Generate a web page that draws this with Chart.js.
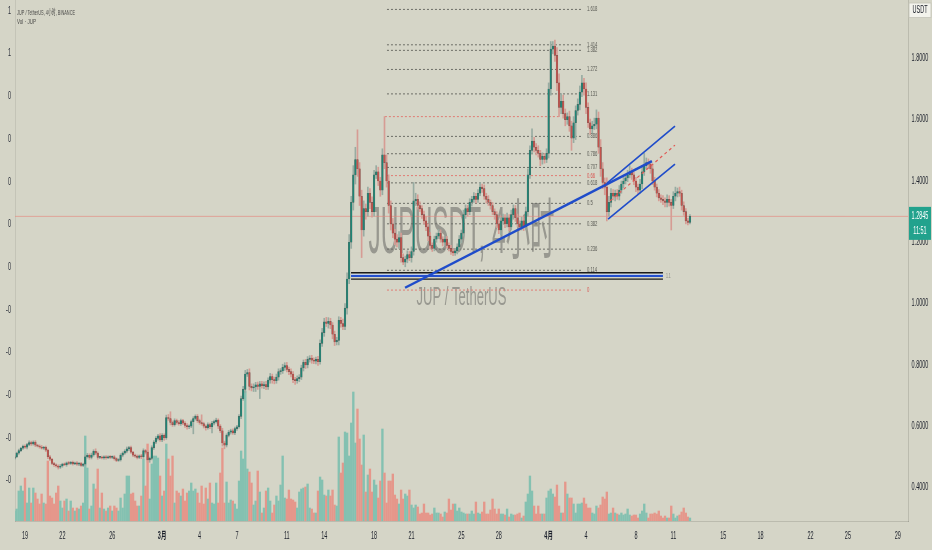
<!DOCTYPE html>
<html><head><meta charset="utf-8">
<script src="https://cdn.jsdelivr.net/npm/chart.js@4.4.1/dist/chart.umd.min.js"></script>
<style>html,body{margin:0;padding:0;background:#d5d5c7;overflow:hidden}canvas{display:block}</style>
</head><body>
<canvas id="c" width="932" height="550" style="width:932px;height:550px"></canvas>
<script>
// ---------- DATA (JUP/USDT, 4h candles, Feb 18 04:00 -> Apr 12 08:00) ----------
const firstOpen = 0.495;
const closes = [
0.500,0.512,0.520,0.528,0.534,
0.531,0.540,0.546,0.542,0.548,0.538,
0.535,0.532,0.528,0.531,0.522,0.500,
0.492,0.478,0.474,0.470,0.466,0.470,
0.476,0.474,0.480,0.478,0.482,0.477,
0.480,0.476,0.478,0.472,0.476,0.500,
0.505,0.498,0.506,0.518,0.512,0.498,
0.498,0.496,0.500,0.497,0.500,0.498,
0.500,0.494,0.488,0.490,0.505,0.512,
0.518,0.526,0.530,0.515,0.505,0.502,
0.498,0.503,0.500,0.520,0.515,0.490,
0.495,0.530,0.548,0.560,0.568,0.555,
0.570,0.562,0.628,0.625,0.612,0.605,
0.618,0.612,0.608,0.618,0.610,0.602,
0.598,0.600,0.615,0.625,0.632,0.618,
0.612,0.608,0.600,0.595,0.605,0.598,
0.610,0.615,0.620,0.600,0.585,0.545,
0.538,0.570,0.580,0.585,0.578,0.592,
0.598,0.632,0.690,0.720,0.770,0.775,
0.730,0.725,0.728,0.735,0.730,0.738,
0.732,0.736,0.728,0.750,0.762,0.752,
0.748,0.760,0.778,0.780,0.792,0.798,
0.785,0.778,0.770,0.752,0.748,0.755,
0.760,0.790,0.808,0.800,0.818,0.822,
0.815,0.812,0.818,0.810,0.870,0.905,
0.940,0.935,0.942,0.930,0.900,0.875,
0.880,0.945,0.935,0.925,0.985,1.080,
1.200,1.330,1.420,1.470,1.440,1.350,
1.240,1.310,1.300,1.360,1.330,1.300,
1.420,1.430,1.400,1.370,1.485,1.460,
1.400,1.320,1.260,1.230,1.210,1.200,
1.215,1.150,1.135,1.145,1.160,1.150,
1.170,1.335,1.340,1.320,1.310,1.290,
1.270,1.250,1.220,1.190,1.180,1.210,
1.220,1.230,1.210,1.200,1.210,1.190,
1.180,1.170,1.165,1.172,1.185,1.210,
1.230,1.290,1.310,1.300,1.330,1.340,
1.350,1.340,1.360,1.380,1.375,1.350,
1.340,1.330,1.320,1.300,1.290,1.260,
1.240,1.270,1.280,1.260,1.280,1.250,
1.290,1.310,1.280,1.260,1.250,1.270,
1.250,1.300,1.420,1.500,1.530,1.510,
1.500,1.490,1.470,1.480,1.470,1.490,
1.700,1.830,1.840,1.810,1.720,1.640,
1.660,1.620,1.600,1.610,1.580,1.540,
1.590,1.630,1.650,1.690,1.720,1.700,
1.640,1.590,1.570,1.580,1.585,1.605,
1.510,1.440,1.395,1.380,1.300,1.330,
1.360,1.350,1.360,1.350,1.370,1.390,
1.400,1.410,1.420,1.430,1.420,1.400,
1.380,1.370,1.390,1.430,1.450,1.460,
1.455,1.440,1.400,1.380,1.360,1.345,
1.340,1.335,1.330,1.340,1.330,1.320,
1.350,1.360,1.365,1.360,1.320,1.300,
1.270,1.265,1.2845
];
// upper / lower shadow lengths beyond the body, in 0.001 USDT
const wickUp = [
4,3,5,3,4, 5,4,6,5,4,5, 3,4,5,3,4,3, 5,3,4,3,4,5, 3,4,3,5,3,4, 3,4,3,4,3,6,
6,5,6,5,8,4, 3,4,3,4,3,4, 3,4,3,4,5,4, 5,6,4,5,3,4, 4,3,5,6,4,5, 4,6,5,6,5,8,
6,5,8,10,22,5, 6,5,6,5,4,5, 6,4,5,6,5,6, 5,25,5,4,6,5, 6,5,6,4,5,8, 6,5,6,5,6,5,
5,6,8,10,12,10, 12,8,10,8,9,8, 8,9,10,8,10,8, 8,10,9,8,10,9, 10,8,9,8,7,9, 8,9,8,10,9,8,
9,8,7,10,12,14, 12,15,12,10,8,10, 10,12,10,14,15,20, 25,20,30,40,97,20, 20,25,15,20,15,18,
15,20,15,12,20,125, 25,20,15,18,12,15, 20,15,12,10,12,10, 15,60,20,15,12,10, 12,15,10,12,8,10,
10,12,10,8,10,9, 8,10,9,8,10,12, 10,15,12,10,12,10, 12,10,12,15,10,12, 10,12,8,10,9,10,
12,10,12,10,15,10, 15,12,10,12,10,12, 10,15,20,15,40,12, 12,15,10,12,10,15, 20,25,15,20,25,30,
25,20,15,12,18,15, 20,15,18,20,25,15, 20,15,12,15,20,27, 20,25,20,15,30,20, 15,12,10,12,15,10,
12,10,15,20,12,10, 12,10,15,20,40,15, 12,10,15,12,10,12, 10,12,10,15,12,10, 15,20,12,15,10,12,
10,8,6
];
const wickDown = [
4,3,4,3,4, 4,5,4,5,4,5, 3,4,3,4,5,6, 5,4,5,4,6,4, 4,3,5,4,3,4, 3,4,5,3,4,4,
4,6,5,4,5,6, 4,3,4,5,3,4, 4,5,4,3,4,5, 4,5,6,4,5,4, 5,4,6,5,6,8, 8,5,6,5,6,5,
6,8,5,6,8,6, 5,6,5,6,5,6, 8,6,5,40,5,6, 6,5,6,8,5,6, 20,6,5,8,6,10, 12,6,5,6,5,6,
6,5,8,6,10,8, 12,10,12,15,10,40, 8,10,9,8,10,12, 10,8,10,9,8,10, 8,10,9,10,12,8, 10,8,10,12,10,9,
10,8,9,12,8,10, 12,10,15,12,15,12, 10,15,12,10,10,20, 15,20,25,30,25,30, 90,20,25,15,20,18,
15,12,15,20,15,20, 20,25,20,15,18,15, 20,15,8,15,12,10, 15,12,15,12,10,12, 10,12,15,12,10,8,
10,8,10,12,10,9, 8,10,9,8,10,8, 12,10,12,15,10,12, 10,12,10,8,12,10, 12,10,12,10,15,12,
12,15,10,12,10,12, 10,15,12,10,12,10, 12,10,15,12,10,15, 15,12,20,15,12,10, 15,20,15,20,25,30,
20,15,20,15,18,40, 15,55,15,18,15,20, 20,15,18,15,12,15, 20,25,20,25,30,15, 15,12,15,10,12,10,
12,10,12,10,15,12, 15,12,10,15,12,10, 12,15,12,10,12,10, 10,12,15,15,12,80, 10,15,12,10,15,12,
10,8,5
];
const volumes = [
10,12,30,35,30,43,18,33,18,33, 28,22,17,27,18,17,60,25,23,17, 28,35,20,13,20,22,10,20,13,10,
13,12,15,18,85,53,12,15,37,32, 52,13,28,12,10,13,15,10,15,13, 10,23,13,27,45,45,27,28,20,15,
15,25,62,35,77,22,57,65,65,63, 45,25,30,77,62,45,65,18,30,28, 25,32,20,28,30,38,30,32,28,18,
35,17,33,22,38,18,17,38,18,48, 73,18,39,18,21,20,17,12,40,70, 62,130,52,49,38,16,20,50,29,8,
13,30,33,20,8,16,25,20,36,65, 23,22,31,22,21,19,13,29,32,33, 34,37,13,12,8,8,30,44,41,26,
25,31,25,31,16,15,84,48,58,89, 88,65,98,129,78,112,82,56,86,29, 46,52,29,41,36,23,40,92,48,18,
40,40,47,26,22,17,31,22,27,25, 31,16,13,16,14,7,8,17,8,8, 6,7,13,8,8,7,4,9,8,22,
11,17,17,10,13,9,8,7,7,7, 10,7,19,8,7,9,19,7,7,11, 22,12,7,12,7,7,6,12,4,7,
6,6,7,8,3,5,19,27,45,30, 15,7,15,7,7,7,23,30,32,27, 24,36,15,8,8,39,27,23,23,17,
8,17,17,18,23,17,13,13,8,7, 15,13,16,24,22,29,7,8,13,8, 7,6,8,6,7,12,6,5,6,6,
3,7,10,17,8,3,7,7,8,7, 10,5,3,5,3,3,15,7,3,5, 6,9,13,8,4,3
];
// x-axis: day offsets from Feb 19 and their labels
const xTickDays = [0,3,7,11,14,17,21,24,28,31,35,38,42,45,49,52,56,59,63,66,70];
const xTickLabels = ['19','22','26','3月','4','7','11','14','18','21','25','28','4月','4','8','11','15','18','22','25','29'];
const rightTicks = [0.4,0.6,0.8,1.0,1.2,1.4,1.6,1.8];
const leftTickValues = [11,10,9,8,7,6,5,4,3,2,1,0];
const leftTickLabels = ['1','1','0','0','0','0','0','-0','-0','-0','-0','-0'];
// Fibonacci retracement
const fibLow = 1.044, fibHigh = 1.610;
const fibLevels = [0,0.114,0.236,0.382,0.5,0.618,0.66,0.707,0.786,0.886,1,1.131,1.272,1.382,1.414,1.618];
const fibLabels = ['0','0.114','0.236','0.382','0.5','0.618','0.66','0.707','0.786','0.886','','1.131','1.272','1.382','1.414','1.618'];
const fibRed = [true,false,false,false,false,false,true,false,false,false,true,false,false,false,false,false];
// drawings (candle index, price)
const trendMain = [[187.9,1.0516],[306.7,1.4649]];
const channelUpper = [[285.1,1.3931],[317.8,1.5791]];
const channelLower = [[285.6,1.2757],[317.8,1.4551]];
const channelMid = [[286.5,1.3344],[317.8,1.5171]];
const hLevels = [1.1005,1.0953,1.0904,1.0799];
const hRange = [161.9,312.0];
const fibRange = [179.2,273.5];
const fibOneRange = [178.2,262];
const fibLabelAt = 275.4;
const countdown = '11:51';

// ---------- BUILD ----------
const N = closes.length;
const opens = closes.map((c,i)=> i===0 ? firstOpen : closes[i-1]);
const up = closes.map((c,i)=> c >= opens[i]);
const highs = closes.map((c,i)=> Math.max(opens[i],c) + (wickUp[i]||0)/1000);
const lows = closes.map((c,i)=> Math.min(opens[i],c) - (wickDown[i]||0)/1000);
const xTickIdx = xTickDays.map(d=> 5 + 6*d);
const xMin = 0.19, xMax = 429.93;
const yMin = 0.2905, yMax = 1.9905;
const lastPrice = closes[N-1];

const C_UP='#1f8475', C_DN='#c4524c', W_UP='#98aca2', W_DN='#d69c94', V_UP='#84c1b1', V_DN='#e5978b';
const FONT='"Liberation Sans","Noto Sans CJK SC",Arial,sans-serif';

function seg(pts, color, width, dash, order){
  return {type:'line', data: pts.map(p=>({x:p[0], y:p[1]})), borderColor:color, borderWidth:width,
          borderDash:dash||[], pointRadius:0, fill:false, tension:0, order:order, yAxisID:'y'};
}
const datasets = [];
datasets.push({type:'bar', label:'vol', yAxisID:'yV', order:10, grouped:false, barThickness:1.7,
  data: volumes.map((v,i)=>({x:i,y:v})), backgroundColor: volumes.map((v,i)=> up[i]?V_UP:V_DN)});
fibLevels.forEach((lv,k)=>{
  const p = fibLow + lv*(fibHigh-fibLow);
  const r = lv===1 ? fibOneRange : fibRange;
  datasets.push(seg([[r[0],p],[r[1],p]], fibRed[k]?'#e07c74':'#6c6d66', 1, [2,2], 9));
});
datasets.push(seg([[xMin,lastPrice],[xMax,lastPrice]], 'rgba(232,130,120,0.75)', 0.8, [], 9));
datasets.push({type:'bar', label:'wick', yAxisID:'y', order:6, grouped:false, barThickness:1,
  data: closes.map((c,i)=>({x:i, y:[lows[i], highs[i]]})), backgroundColor: up.map(u=>u?W_UP:W_DN)});
datasets.push({type:'bar', label:'body', yAxisID:'y', order:5, grouped:false, barThickness:1.7, minBarLength:1,
  data: closes.map((c,i)=>({x:i, y:[opens[i], c]})), backgroundColor: up.map(u=>u?C_UP:C_DN),
  borderColor:'rgba(25,35,32,0.55)', borderWidth:0.4, borderSkipped:false});
// horizontal black / blue rays
datasets.push(seg([[hRange[0],hLevels[0]],[hRange[1],hLevels[0]]], '#1b1b1b', 1.3, [], 2));
datasets.push(seg([[hRange[0],hLevels[1]],[hRange[1],hLevels[1]]], '#c9d6ee', 1, [], 2));
datasets.push(seg([[hRange[0],hLevels[2]],[hRange[1],hLevels[2]]], '#2450cf', 2.2, [], 2));
datasets.push(seg([[hRange[0],hLevels[3]],[hRange[1],hLevels[3]]], '#1b1b1b', 1.3, [], 2));
// trendlines & channel
datasets.push(seg(trendMain, '#1f4cca', 2.5, [], 1));
datasets.push(seg(channelUpper, '#1f4cca', 1.6, [], 1));
datasets.push(seg(channelLower, '#1f4cca', 1.6, [], 1));
datasets.push(seg(channelMid, '#e05a55', 1.2, [3,3], 1));

function drawText(ctx, s, x, y, o){
  ctx.save();
  ctx.font = (o.weight||'normal')+' '+o.size+'px '+FONT;
  ctx.fillStyle = o.color; ctx.textBaseline = o.baseline||'middle'; ctx.textAlign='left';
  const w0 = ctx.measureText(s).width;
  const sx = o.width ? o.width/w0 : (o.sx||1);
  const w = w0*sx;
  const x0 = o.align==='center' ? x-w/2 : (o.align==='right' ? x-w : x);
  ctx.translate(x0, y); ctx.scale(sx,1); ctx.fillText(s,0,0);
  ctx.restore();
}

const overlay = {
  id:'overlay',
  beforeDatasetsDraw(chart){
    const {ctx, chartArea:a} = chart;
    const cx=(a.left+a.right)/2, cy=(a.top+a.bottom)/2;
    drawText(ctx,'JUPUSDT, 4小时',cx,cy-7.5,{size:66,color:'rgba(112,112,106,0.6)',align:'center',width:186,baseline:'alphabetic'});
    drawText(ctx,'JUP / TetherUS',cx,cy+44.5,{size:25,color:'rgba(112,112,106,0.6)',align:'center',width:90,baseline:'alphabetic'});
  },
  afterDatasetsDraw(chart){
    const {ctx} = chart; const xs=chart.scales.x, ys=chart.scales.y;
    fibLevels.forEach((lv,k)=>{
      if(!fibLabels[k]) return;
      const p = fibLow + lv*(fibHigh-fibLow);
      drawText(ctx, fibLabels[k], xs.getPixelForValue(fibLabelAt), ys.getPixelForValue(p),
        {size:7,color:fibRed[k]?'#d9534f':'#5a5b55',sx:0.6});
    });
    drawText(ctx,'1.1',xs.getPixelForValue(hRange[1])+3,ys.getPixelForValue(hLevels[2]),{size:7,color:'#8a8a84',sx:0.5});
  },
  afterDraw(chart){
    const {ctx, chartArea:a} = chart; const xs=chart.scales.x, ys=chart.scales.y, yl=chart.scales.yL;
    const axX = (a.right+chart.width)/2;
    ys.ticks.forEach(t=>{
      drawText(ctx, t.value.toFixed(4), axX, ys.getPixelForValue(t.value), {size:10,color:'#1e222d',align:'center',sx:0.55});
    });
    xs.ticks.forEach((t,k)=>{
      const lab = xTickLabels[k]; const bold = lab.indexOf('月')>=0;
      drawText(ctx, lab, xs.getPixelForValue(t.value), (a.bottom+chart.height)/2+0.5,
        {size:10,color:'#1e222d',align:'center',sx:0.55,weight:bold?'bold':'normal'});
    });
    yl.ticks.forEach((t,k)=>{
      drawText(ctx, leftTickLabels[k], a.left-4, yl.getPixelForValue(t.value), {size:10,color:'#2a2e39',align:'right',sx:0.55});
    });
    // legend
    drawText(ctx,'JUP / TetherUS, 4小时, BINANCE',a.left+2,12.5,{size:8,color:'#4a4a48',width:58});
    drawText(ctx,'Vol · JUP',a.left+2,22,{size:8,color:'#4a4a48',width:19});
    // USDT box
    ctx.save(); ctx.fillStyle='#f3f3ec'; ctx.strokeStyle='#c4c4b8'; ctx.lineWidth=0.8;
    ctx.fillRect(a.right+1,3,chart.width-a.right-2,14.5); ctx.strokeRect(a.right+1,3,chart.width-a.right-2,14.5); ctx.restore();
    drawText(ctx,'USDT',axX,10.3,{size:10,color:'#131722',align:'center',sx:0.55});
    // last price box
    const py = ys.getPixelForValue(lastPrice);
    ctx.save(); ctx.fillStyle='#22a28d'; ctx.fillRect(a.right+1,py-9.5,chart.width-a.right-2,33); ctx.restore();
    drawText(ctx,lastPrice.toFixed(4),axX,py,{size:10,color:'#ffffff',align:'center',sx:0.55});
    drawText(ctx,countdown,axX,py+14.5,{size:10,color:'#ffffff',align:'center',sx:0.55});
  }
};

new Chart(document.getElementById('c'), {
  type:'bar',
  data:{datasets},
  options:{
    responsive:false, animation:false, events:[],
    layout:{padding:0},
    plugins:{legend:{display:false}, tooltip:{enabled:false}},
    scales:{
      x:{type:'linear', min:xMin, max:xMax, offset:false, grid:{display:false},
         border:{display:true,color:'rgba(0,0,0,0.12)'}, ticks:{display:false},
         afterBuildTicks:s=>{ s.ticks = xTickIdx.map(v=>({value:v})); },
         afterFit:s=>{ s.height = 29; }},
      y:{type:'linear', position:'right', min:yMin, max:yMax, grid:{display:false},
         border:{display:true,color:'rgba(0,0,0,0.12)'}, ticks:{display:false},
         afterBuildTicks:s=>{ s.ticks = rightTicks.map(v=>({value:v})); },
         afterFit:s=>{ s.width = 24; }},
      yL:{type:'linear', position:'left', min:-0.944, max:11.258, grid:{display:false},
         border:{display:true,color:'rgba(0,0,0,0.08)'}, ticks:{display:false},
         afterBuildTicks:s=>{ s.ticks = leftTickValues.map(v=>({value:v})); },
         afterFit:s=>{ s.width = 15; }},
      yV:{type:'linear', display:false, min:0, max:521}
    }
  },
  plugins:[overlay]
});
</script>
</body></html>
